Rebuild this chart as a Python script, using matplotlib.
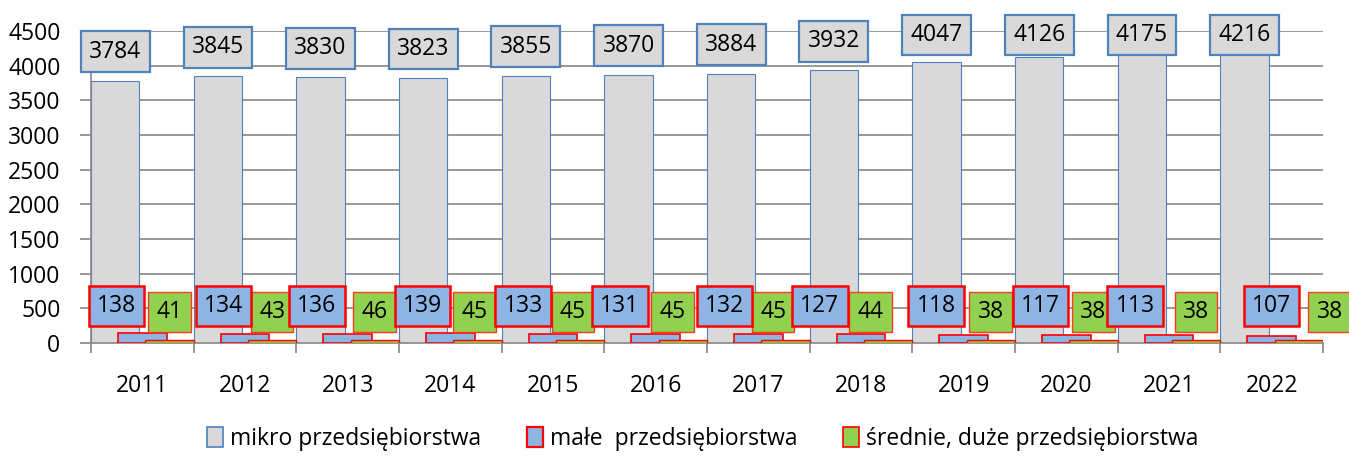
import numpy as np
import matplotlib
matplotlib.use('Agg')
import matplotlib.pyplot as plt
from matplotlib.patches import Patch

years = ['2011', '2012', '2013', '2014', '2015', '2016', '2017', '2018', '2019', '2020', '2021', '2022']
mikro = [3784, 3845, 3830, 3823, 3855, 3870, 3884, 3932, 4047, 4126, 4175, 4216]
male = [138, 134, 136, 139, 133, 131, 132, 127, 118, 117, 113, 107]
srednie = [41, 43, 46, 45, 45, 45, 45, 44, 38, 38, 38, 38]

# przesunięcia etykiet (jak ręcznie przesunięte w Excelu), w jednostkach kategorii
male_nudge = [-0.25, -0.21, -0.30, -0.27, -0.29, -0.35, -0.33, -0.40, -0.27, -0.25, -0.33, 0.0]
sred_nudge = [0.0, 0.0, 0.0, -0.03, -0.07, -0.10, -0.12, -0.17, 0.0, 0.0, 0.0, 0.30]

plt.rcParams['font.family'] = ['Open Sans', 'DejaVu Sans']
fs = 16.5

fig = plt.figure(figsize=(13.49, 4.59), dpi=100)
ax = fig.add_axes([91 / 1349, 1 - 343 / 459, (1323 - 91) / 1349, (343 - 31) / 459])

x = np.arange(len(years))
w = 0.472
d = 0.264

ax.bar(x - d, mikro, w, color='#D9D9D9', edgecolor='#4F81BD', linewidth=0.8, zorder=2,
       label='mikro przedsiębiorstwa')
ax.bar(x, male, w, color='#8DB4E2', edgecolor='#FF0000', linewidth=1.2, zorder=3,
       label='małe  przedsiębiorstwa')
ax.bar(x + d, srednie, w, color='#92D050', edgecolor='#FF0000', linewidth=1.0, zorder=4,
       label='średnie, duże przedsiębiorstwa')

# etykiety danych
for i, v in enumerate(mikro):
    ax.text(x[i] - d, min(v + 418, 4444), str(v), ha='center', va='center', fontsize=fs,
            zorder=6, bbox=dict(boxstyle='square,pad=0.36', fc='#D9D9D9', ec='#4F81BD', lw=1.6))
for i, v in enumerate(srednie):
    ax.text(x[i] + d + sred_nudge[i], 447, str(v), ha='center', va='center', fontsize=fs,
            zorder=7, clip_on=False,
            bbox=dict(boxstyle='square,pad=0.36', fc='#92D050', ec='#FF3B1F', lw=1.0))
for i, v in enumerate(male):
    ax.text(x[i] + male_nudge[i], 534, str(v), ha='center', va='center', fontsize=fs,
            zorder=8, bbox=dict(boxstyle='square,pad=0.36', fc='#8DB4E2', ec='#FF0000', lw=1.8))

ax.set_xlim(-0.5, len(years) - 0.5)
ax.set_ylim(0, 4500)
ax.set_yticks(np.arange(0, 4501, 500))
ax.set_xticks(x)
ax.set_xticklabels(years)
ax.set_xticks(np.arange(-0.5, len(years), 1), minor=True)
ax.tick_params(axis='x', which='major', length=0, pad=22, labelsize=fs)
ax.tick_params(axis='x', which='minor', length=7, color='#868686', width=1.2)
ax.tick_params(axis='y', length=8, color='#868686', width=1.2, pad=14, labelsize=fs)

ax.grid(axis='y', color='#868686', linewidth=1.2, zorder=0)
ax.set_axisbelow(True)
for s in ['top', 'right']:
    ax.spines[s].set_visible(False)
for s in ['left', 'bottom']:
    ax.spines[s].set_color('#868686')
    ax.spines[s].set_linewidth(1.2)

handles = [Patch(fc='#D9D9D9', ec='#4F81BD', lw=1.2),
           Patch(fc='#8DB4E2', ec='#FF0000', lw=1.6),
           Patch(fc='#92D050', ec='#FF0000', lw=1.2)]
labels = ['mikro przedsiębiorstwa', 'małe  przedsiębiorstwa', 'średnie, duże przedsiębiorstwa']
fig.legend(handles, labels, loc='center', bbox_to_anchor=(703 / 1349, 1 - 439 / 459), ncol=3,
           frameon=False, fontsize=fs, handlelength=0.7, handleheight=1.0, handletextpad=0.3,
           columnspacing=2.0)

fig.savefig('out.png', dpi=100)
